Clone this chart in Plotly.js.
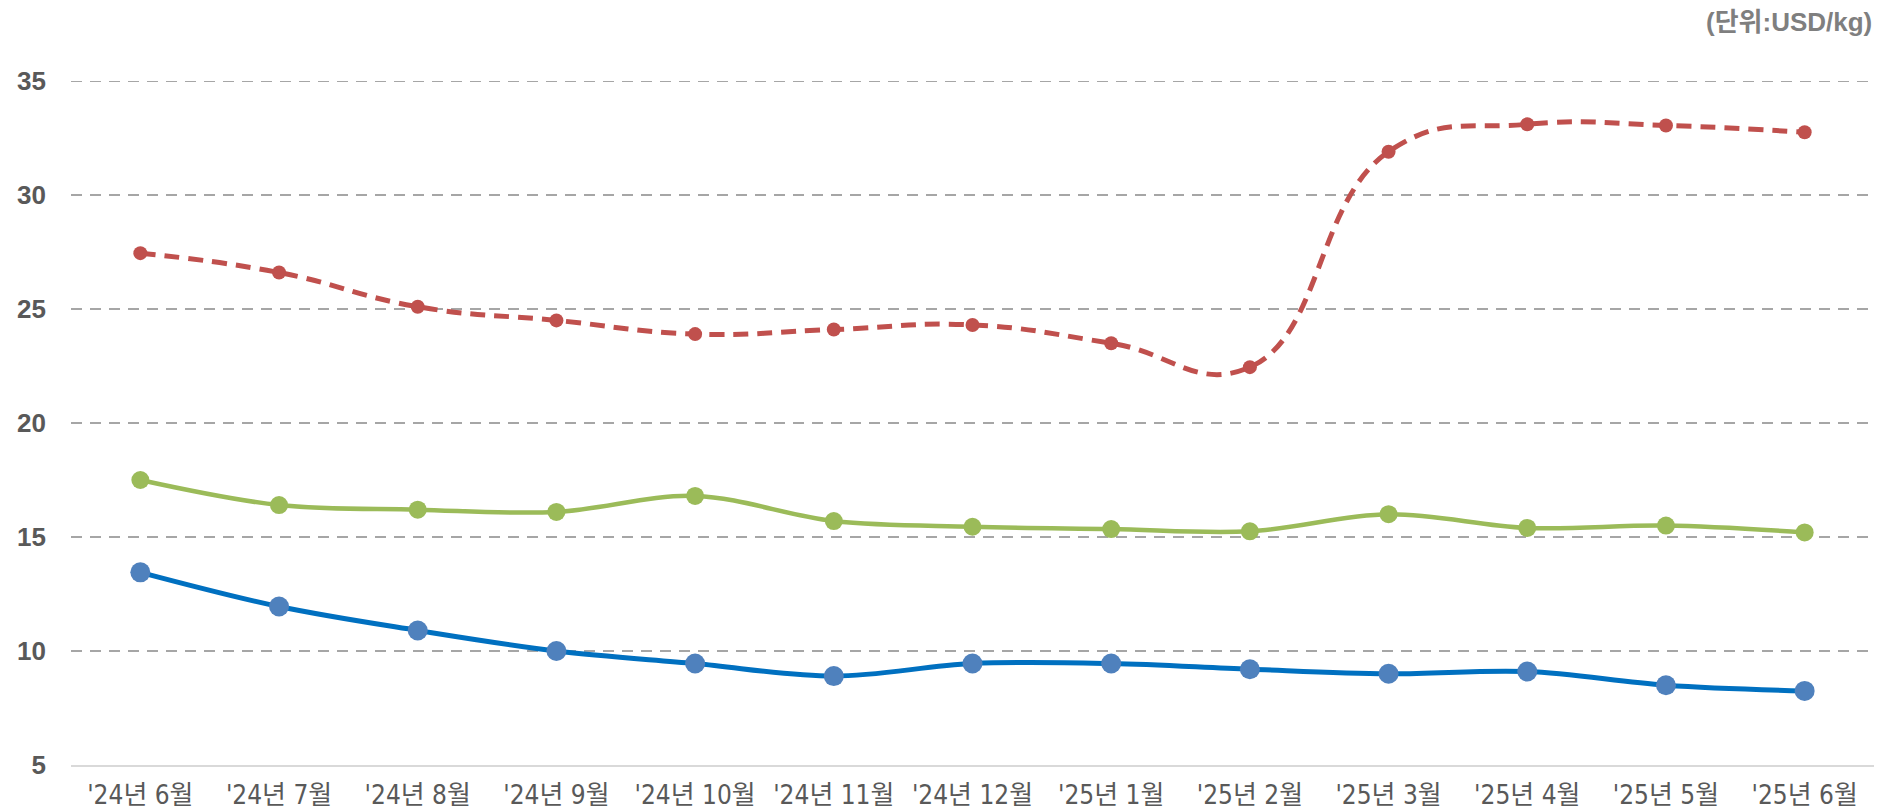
<!DOCTYPE html>
<html>
<head>
<meta charset="utf-8">
<script src="https://cdn.plot.ly/plotly-3.0.1.min.js"></script>
<style>
html,body{margin:0;padding:0;background:#ffffff;}
#chart{width:1879px;height:811px;}
</style>
</head>
<body>
<div id="chart"></div>
<script>
var categories = ["'24년 6월", "'24년 7월", "'24년 8월", "'24년 9월", "'24년 10월", "'24년 11월", "'24년 12월", "'25년 1월", "'25년 2월", "'25년 3월", "'25년 4월", "'25년 5월", "'25년 6월"];
var redSeries = [27.45, 26.6, 25.1, 24.5, 23.9, 24.1, 24.3, 23.5, 22.45, 31.9, 33.1, 33.05, 32.75];
var greenSeries = [17.5, 16.4, 16.2, 16.1, 16.8, 15.7, 15.45, 15.35, 15.25, 16.0, 15.4, 15.5, 15.2];
var blueSeries = [13.45, 11.95, 10.9, 10.0, 9.45, 8.9, 9.45, 9.45, 9.2, 9.0, 9.1, 8.5, 8.25];
var yTicks = [5, 10, 15, 20, 25, 30, 35];
var yMin = 5, yMax = 35;
var unitLabel = "(단위:USD/kg)";

var traces = [
  {
    x: categories, y: blueSeries, type: 'scatter', mode: 'lines+markers',
    line: {color: '#0070C0', width: 5, shape: 'spline', smoothing: 1},
    marker: {color: '#4F81BD', size: 20},
    showlegend: false, hoverinfo: 'skip', cliponaxis: false
  },
  {
    x: categories, y: greenSeries, type: 'scatter', mode: 'lines+markers',
    line: {color: '#9BBB59', width: 4.5, shape: 'spline', smoothing: 1},
    marker: {color: '#9BBB59', size: 18},
    showlegend: false, hoverinfo: 'skip', cliponaxis: false
  },
  {
    x: categories, y: redSeries, type: 'scatter', mode: 'lines+markers',
    line: {color: '#C0504D', width: 5, shape: 'spline', smoothing: 1.3, dash: '15px,9px'},
    marker: {color: '#C0504D', size: 14},
    showlegend: false, hoverinfo: 'skip', cliponaxis: false
  }
];

var layout = {
  width: 1879, height: 811,
  margin: {l: 71, r: 5, t: 81, b: 46, pad: 0},
  paper_bgcolor: '#ffffff', plot_bgcolor: '#ffffff',
  hovermode: false,
  xaxis: {
    type: 'category', range: [-0.5, 12.5],
    showgrid: false, zeroline: false,
    showline: true, linecolor: '#D9D9D9', linewidth: 2,
    ticks: '', ticklabelstandoff: 6,
    tickfont: {family: '"Liberation Sans Narrow", "DejaVu Sans Condensed", "Noto Sans CJK KR", sans-serif', size: 26, color: '#595959'}
  },
  yaxis: {
    range: [yMin, yMax], tickvals: yTicks, ticktext: yTicks.map(String),
    showgrid: true, gridcolor: '#A6A6A6', gridwidth: 2, griddash: '11px,8px',
    zeroline: false, showline: false,
    ticks: '', ticklabelstandoff: 24,
    tickfont: {family: '"Liberation Sans", Arial, sans-serif', size: 26, color: '#595959', weight: 'bold'}
  },
  shapes: [{
    type: 'line', xref: 'paper', yref: 'y', x0: 0, x1: 1, y0: yMax, y1: yMax,
    line: {color: '#A6A6A6', width: 2, dash: '11px,8px'}, layer: 'below'
  }],
  annotations: [{
    text: unitLabel, xref: 'paper', yref: 'paper', x: 1, y: 1.086,
    xanchor: 'right', yanchor: 'middle', showarrow: false,
    font: {family: '"Liberation Sans", "Noto Sans CJK KR", sans-serif', size: 26, color: '#7F7F7F', weight: 'bold'}
  }]
};

Plotly.newPlot('chart', traces, layout, {staticPlot: true, displayModeBar: false});
</script>
</body>
</html>
